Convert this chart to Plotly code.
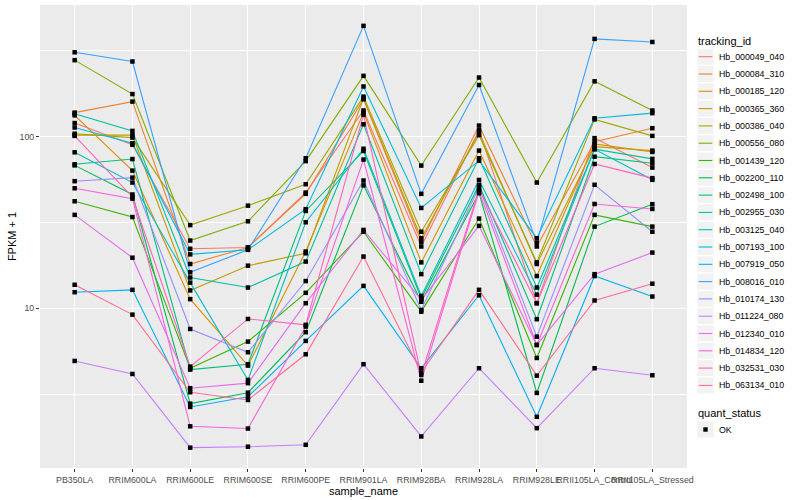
import plotly.graph_objects as go

samples = ["PB350LA", "RRIM600LA", "RRIM600LE", "RRIM600SE", "RRIM600PE",
           "RRIM901LA", "RRIM928BA", "RRIM928LA", "RRIM928LE",
           "RRII105LA_Control", "RRII105LA_Stressed"]

tracking_ids = ["Hb_000049_040", "Hb_000084_310", "Hb_000185_120", "Hb_000365_360",
                "Hb_000386_040", "Hb_000556_080", "Hb_001439_120", "Hb_002200_110",
                "Hb_002498_100", "Hb_002955_030", "Hb_003125_040", "Hb_007193_100",
                "Hb_007919_050", "Hb_008016_010", "Hb_010174_130", "Hb_011224_080",
                "Hb_012340_010", "Hb_014834_120", "Hb_032531_030", "Hb_063134_010"]

colors = ["#F8766D", "#EA8331", "#D89000", "#C09B00", "#A3A500", "#7CAE00",
          "#39B600", "#00BB4E", "#00BF7D", "#00C1A3", "#00BFC4", "#00BAE0",
          "#00B0F6", "#35A2FF", "#9590FF", "#C77CFF", "#E76BF3", "#FA62DB",
          "#FF62BC", "#FF6C91"]

# FPKM + 1 per sample (same order as samples)
Hb_000049_040 = [120, 89.6, 22.2, 22.6, 47.2, 142, 22.9, 109, 10.7, 98, 66]
Hb_000084_310 = [138, 160, 18.1, 22.6, 46.4, 165, 24.4, 116, 22.9, 93.5, 112]
Hb_000185_120 = [133, 63.4, 11.3, 4.63, 21.4, 138, 18.5, 82.9, 15.4, 90.7, 81.4]
Hb_000365_360 = [102, 102, 12.7, 17.7, 20.9, 167, 25.6, 106, 18.1, 87.5, 82.9]
Hb_000386_040 = [104, 98.7, 30.5, 39.6, 52.8, 171, 27.9, 102, 18.5, 126, 101]
Hb_000556_080 = [279, 177, 24.8, 32.1, 72, 226, 67.8, 221, 54, 210, 142]
Hb_001439_120 = [42, 34, 4.47, 6.39, 12.3, 27.9, 9.55, 33.3, 5.13, 35, 29.9]
Hb_002200_110 = [68, 46, 2.78, 3.22, 7.25, 52, 10.9, 46.8, 3.21, 29.9, 40.4]
Hb_002498_100 = [69, 74, 4.39, 4.72, 36.9, 82.5, 11.4, 52.3, 8.63, 76.4, 70]
Hb_002955_030 = [136, 108, 15.1, 13.2, 18.7, 118, 15.8, 74.8, 13.2, 84.5, 74.2]
Hb_003125_040 = [81, 54, 14.1, 3.82, 31.7, 85, 11.8, 55.9, 12.0, 84.5, 56]
Hb_007193_100 = [113, 91.5, 20.6, 21.9, 37.8, 196, 38.4, 72.4, 25.6, 128, 137]
Hb_007919_050 = [12.4, 12.8, 2.66, 3.05, 6.45, 13.5, 4.47, 11.9, 2.33, 15.4, 11.7]
Hb_008016_010 = [310, 274, 16.2, 21.9, 74.8, 442, 46.4, 200, 24.1, 371, 356]
Hb_010174_130 = [55, 57.7, 7.57, 5.54, 14.4, 55.5, 9.77, 50.7, 6.83, 52.4, 27.9]
Hb_011224_080 = [4.93, 4.14, 1.54, 1.56, 1.6, 4.72, 1.79, 4.47, 2.0, 4.47, 4.07]
Hb_012340_010 = [35, 19.7, 3.42, 3.66, 10.7, 28.6, 11.2, 30.2, 6.11, 15.8, 21.1]
Hb_014834_120 = [50, 43.5, 2.05, 1.99, 7.82, 73.5, 3.78, 47.8, 6.11, 40.5, 37.9]
Hb_032531_030 = [101, 44.5, 4.57, 8.66, 8.0, 134, 4.09, 49.4, 10.7, 69.3, 57.3]
Hb_063134_010 = [13.7, 9.18, 3.24, 2.92, 5.39, 20, 4.22, 12.8, 4.05, 11.1, 13.9]

series_values = [Hb_000049_040, Hb_000084_310, Hb_000185_120, Hb_000365_360,
                 Hb_000386_040, Hb_000556_080, Hb_001439_120, Hb_002200_110,
                 Hb_002498_100, Hb_002955_030, Hb_003125_040, Hb_007193_100,
                 Hb_007919_050, Hb_008016_010, Hb_010174_130, Hb_011224_080,
                 Hb_012340_010, Hb_014834_120, Hb_032531_030, Hb_063134_010]

quant_status = ["OK"]

FONT = "Liberation Sans, Arial, sans-serif"
W, H = 800, 500
ML, MR, MT, MB = 40, 113, 5, 32
PW, PH = W - ML - MR, H - MT - MB


def px(x):  # pixel -> paper x
    return (x - ML) / PW


def py(y):  # pixel -> paper y
    return (H - MB - y) / PH


fig = go.Figure()
for name, col, vals in zip(tracking_ids, colors, series_values):
    fig.add_trace(go.Scatter(x=samples, y=vals, mode="lines", name=name,
                             line=dict(color=col, width=1.1), showlegend=False))

all_x, all_y = [], []
for vals in series_values:
    all_x += samples
    all_y += vals
fig.add_trace(go.Scatter(x=all_x, y=all_y, mode="markers", name=quant_status[0],
                         marker=dict(color="black", symbol="square", size=4.5),
                         showlegend=False))

# ---- ggplot-like legends (keys + labels) ----
shapes, annots = [], []
annots.append(dict(text="tracking_id", x=px(696), y=py(41), xref="paper", yref="paper",
                   xanchor="left", yanchor="middle", showarrow=False,
                   font=dict(size=11, color="black")))
step = 17.3
for i, (name, col) in enumerate(zip(tracking_ids, colors)):
    cy = 56.7 + step * i
    shapes.append(dict(type="rect", xref="paper", yref="paper",
                       x0=px(697), x1=px(714), y0=py(cy - 8.4), y1=py(cy + 8.4),
                       fillcolor="#F2F2F2", line=dict(color="white", width=0.8)))
    shapes.append(dict(type="line", xref="paper", yref="paper",
                       x0=px(698.7), x1=px(712.3), y0=py(cy), y1=py(cy),
                       line=dict(color=col, width=1.1)))
    annots.append(dict(text=name, x=px(716.5), y=py(cy), xref="paper", yref="paper",
                       xanchor="left", yanchor="middle", showarrow=False,
                       font=dict(size=8.8, color="black")))

annots.append(dict(text="quant_status", x=px(696), y=py(412.5), xref="paper", yref="paper",
                   xanchor="left", yanchor="middle", showarrow=False,
                   font=dict(size=11, color="black")))
cy = 429.5
shapes.append(dict(type="rect", xref="paper", yref="paper",
                   x0=px(697), x1=px(714), y0=py(cy - 8.4), y1=py(cy + 8.4),
                   fillcolor="#F2F2F2", line=dict(color="white", width=0.8)))
shapes.append(dict(type="rect", xref="paper", yref="paper",
                   x0=px(703.3), x1=px(707.7), y0=py(cy - 2.2), y1=py(cy + 2.2),
                   fillcolor="black", line=dict(width=0)))
annots.append(dict(text=quant_status[0], x=px(716.5), y=py(cy), xref="paper", yref="paper",
                   xanchor="left", yanchor="middle", showarrow=False,
                   font=dict(size=8.8, color="black")))

fig.update_layout(
    width=W, height=H,
    margin=dict(l=ML, r=MR, t=MT, b=MB),
    paper_bgcolor="white", plot_bgcolor="#EBEBEB",
    font=dict(family=FONT, color="black"),
    showlegend=False,
    shapes=shapes, annotations=annots,
    xaxis=dict(type="category", range=[-0.6, 10.6], showgrid=True,
               gridcolor="white", gridwidth=1.1, zeroline=False, showline=False,
               ticks="outside", ticklen=3, tickcolor="#333333", tickangle=0,
               tickfont=dict(size=8.8, color="#4D4D4D"),
               title=dict(text="sample_name", font=dict(size=11), standoff=2)),
    yaxis=dict(type="log", range=[0.069, 2.767], tickvals=[10, 100],
               ticktext=["10", "100"], showgrid=True, gridcolor="white",
               gridwidth=1.1, zeroline=False, showline=False,
               ticks="outside", ticklen=3, tickcolor="#333333",
               tickfont=dict(size=8.8, color="#4D4D4D"),
               minor=dict(tickmode="array", tickvals=[3.1623, 31.623, 316.23],
                          showgrid=True, gridcolor="white", gridwidth=0.55,
                          ticks=""),
               title=dict(text="FPKM + 1", font=dict(size=11), standoff=0)),
)

fig.write_html("out.html", config={"displayModeBar": False},
               post_script="document.body.style.margin='0';document.body.style.overflow='hidden';")
